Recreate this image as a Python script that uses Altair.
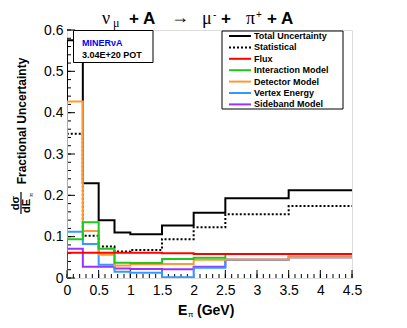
import altair as alt
import pandas as pd

# ---- data ----
edges = [0.0, 0.25, 0.5, 0.75, 1.0, 1.5, 2.0, 2.5, 3.5, 4.5]
series_names = ["Total Uncertainty", "Statistical", "Flux", "Interaction Model",
                "Detector Model", "Vertex Energy", "Sideband Model"]
total = [0.575, 0.229, 0.140, 0.110, 0.106, 0.127, 0.158, 0.193, 0.212]
statistical = [0.349, 0.102, 0.076, 0.064, 0.068, 0.094, 0.123, 0.154, 0.174]
flux = [0.061, 0.061, 0.061, 0.061, 0.061, 0.060, 0.058, 0.058, 0.058]
interaction = [0.094, 0.135, 0.071, 0.037, 0.036, 0.046, 0.049, 0.058, 0.057]
detector = [0.427, 0.114, 0.056, 0.030, 0.033, 0.034, 0.044, 0.045, 0.050]
vertex = [0.112, 0.082, 0.032, 0.015, 0.013, 0.002, 0.025, 0.044, 0.050]
sideband = [0.071, 0.027, 0.027, 0.023, 0.022, 0.021, 0.027, 0.044, 0.050]
x_ticks = [0, 0.5, 1, 1.5, 2, 2.5, 3, 3.5, 4, 4.5]
y_ticks = [0, 0.1, 0.2, 0.3, 0.4, 0.5, 0.6]

values = [total, statistical, flux, interaction, detector, vertex, sideband]
colors = ["#000000", "#000000", "#ff0000", "#1ec81e", "#ff9933", "#3399ff", "#9933ff"]
dashes = [[1, 0], [2, 2], [1, 0], [1, 0], [1, 0], [1, 0], [1, 0]]

W, H = 285, 248
FONT = "Liberation Sans"

xscale = alt.Scale(domain=[0, 4.5], nice=False, zero=False)
yscale = alt.Scale(domain=[0, 0.6], nice=False)
xaxis = alt.Axis(values=x_ticks, format="~g", title=None, domain=False, ticks=False,
                 grid=False, labelFont=FONT, labelFontSize=14, labelColor="black",
                 labelPadding=5, labelFlush=False, labelOverlap=False)
yaxis = alt.Axis(values=y_ticks, format="~g", title=None, domain=False, ticks=False,
                 grid=False, labelFont=FONT, labelFontSize=14, labelColor="black",
                 labelPadding=4, labelOverlap=False, labelFlush=False)


def X(field):
    return alt.X(field, scale=xscale, axis=xaxis)


def Y(field):
    return alt.Y(field, scale=yscale, axis=yaxis)


def step_df(vals):
    pts = [(edges[0], 0.0)]
    for i, v in enumerate(vals):
        pts.append((edges[i], v))
        pts.append((edges[i + 1], v))
    return pd.DataFrame({"x": [p[0] for p in pts], "y": [p[1] for p in pts],
                         "o": list(range(len(pts)))})


layers = []

# axes carrier (labels only)
axis_df = pd.DataFrame({"x": [0.0, 4.5], "y": [0.0, 0.6]})
layers.append(alt.Chart(axis_df).mark_point(opacity=0).encode(x=X("x:Q"), y=Y("y:Q")))

# inward tick marks
xmajor = pd.DataFrame({"t": x_ticks})
xminor = pd.DataFrame({"t": [round(i * 0.1, 2) for i in range(46)]})
ymajor = pd.DataFrame({"t": y_ticks})
yminor = pd.DataFrame({"t": [round(i * 0.02, 3) for i in range(31)]})
layers.append(alt.Chart(xminor).mark_rule(color="black", strokeWidth=1).encode(
    x=X("t:Q"), y=alt.value(H), y2=alt.value(H - 4)))
layers.append(alt.Chart(xmajor).mark_rule(color="black", strokeWidth=1).encode(
    x=X("t:Q"), y=alt.value(H), y2=alt.value(H - 8)))
layers.append(alt.Chart(yminor).mark_rule(color="black", strokeWidth=1).encode(
    y=Y("t:Q"), x=alt.value(0), x2=alt.value(4)))
layers.append(alt.Chart(ymajor).mark_rule(color="black", strokeWidth=1).encode(
    y=Y("t:Q"), x=alt.value(0), x2=alt.value(8)))

# histograms: total, stat, then systematics in reverse legend order (flux on top)
draw_order = [0, 1, 6, 5, 4, 3, 2]
for k in draw_order:
    df = step_df(values[k])
    layers.append(alt.Chart(df).mark_line(color=colors[k], strokeWidth=2,
                                          strokeDash=dashes[k], clip=True).encode(
        x=X("x:Q"), y=Y("y:Q"), order="o:Q"))

one = pd.DataFrame({"a": [0]})


def txt(s, x, y, size=9, bold=True, color="black", font=FONT, align="left",
        baseline="alphabetic", angle=0):
    kw = dict(text=s, font=font, fontSize=size, fontWeight="bold" if bold else "normal",
              color=color, align=align, baseline=baseline)
    if angle:
        kw["angle"] = angle
    return alt.Chart(one).mark_text(**kw).encode(x=alt.value(x), y=alt.value(y))


def box(x1, y1, x2, y2):
    return alt.Chart(one).mark_rect(fill="white", stroke="black", strokeWidth=1).encode(
        x=alt.value(x1), x2=alt.value(x2), y=alt.value(y1), y2=alt.value(y2))


def seg(x1, y1, x2, y2, color="black", width=1.0, dash=None):
    kw = dict(color=color, strokeWidth=width)
    if dash:
        kw["strokeDash"] = dash
    return alt.Chart(one).mark_rule(**kw).encode(
        x=alt.value(x1), x2=alt.value(x2), y=alt.value(y1), y2=alt.value(y2))


OX, OY = 67, 30  # plot origin in page pixels

# info box
layers.append(box(73.5 - OX, 30.5 - OY, 153 - OX, 62.5 - OY))
layers.append(txt("MINERνA", 82 - OX, 45.5 - OY, size=9, color="#0000ff"))
layers.append(txt("3.04E+20 POT", 82 - OX, 57.5 - OY, size=9))

# legend box
layers.append(box(222 - OX, 31 - OY, 343 - OX, 109 - OY))
for i, name in enumerate(series_names):
    cy = 36 + 11.4 * i - OY
    layers.append(seg(229 - OX, cy, 251 - OX, cy, color=colors[i], width=2,
                      dash=dashes[i] if i == 1 else None))
    layers.append(txt(name, 254 - OX, cy, size=9, baseline="middle"))

# title pieces (kept inside the drawable area: page y >= 8)
SERIF = "Liberation Serif"
tb = 24 - OY
layers.append(txt("ν", 102 - OX, tb, size=18, bold=False, font=SERIF))
layers.append(txt("μ", 113 - OX, tb + 3, size=12, bold=False, font=SERIF))
layers.append(txt("+ A", 129 - OX, tb, size=17))
layers.append(txt("→", 171 - OX, tb - 1, size=18, bold=False, font=SERIF))
layers.append(txt("μ", 202 - OX, tb, size=18, bold=False, font=SERIF))
layers.append(txt("-", 213 - OX, tb - 6, size=10, bold=False))
layers.append(txt("+", 221 - OX, tb, size=17))
layers.append(txt("π", 246 - OX, tb, size=18, bold=False, font=SERIF))
layers.append(txt("+", 256 - OX, tb - 6, size=10, bold=False))
layers.append(txt("+ A", 267 - OX, tb, size=17))

# x-axis title
layers.append(txt("E", 178 - OX, 314.5 - OY, size=14))
layers.append(txt("π", 188 - OX, 317 - OY, size=8, bold=False))
layers.append(txt("(GeV)", 197 - OX, 314.5 - OY, size=14))

# y-axis title (rotated)
layers.append(txt("Fractional Uncertainty", 26 - OX, 121 - OY, size=12, angle=270,
                  align="center"))
layers.append(txt("dσ", 15.5 - OX, 203 - OY, size=11, angle=270, align="center",
                  baseline="middle"))
layers.append(seg(21 - OX, 192 - OY, 21 - OX, 214 - OY, width=1.2))
layers.append(txt("dE", 27 - OX, 206 - OY, size=11, angle=270, align="center",
                  baseline="middle"))
layers.append(txt("π", 31 - OX, 195 - OY, size=6, angle=270, align="center", bold=False,
                  baseline="middle"))

chart = alt.layer(*layers).properties(
    width=W, height=H,
    autosize=alt.AutoSizeParams(type="none"),
    padding={"left": 59, "top": 22, "right": 47, "bottom": 42},
).configure_view(stroke="black", strokeWidth=1.2).configure(background="white")

chart.save("out.html", embed_options={"renderer": "svg", "actions": False})
